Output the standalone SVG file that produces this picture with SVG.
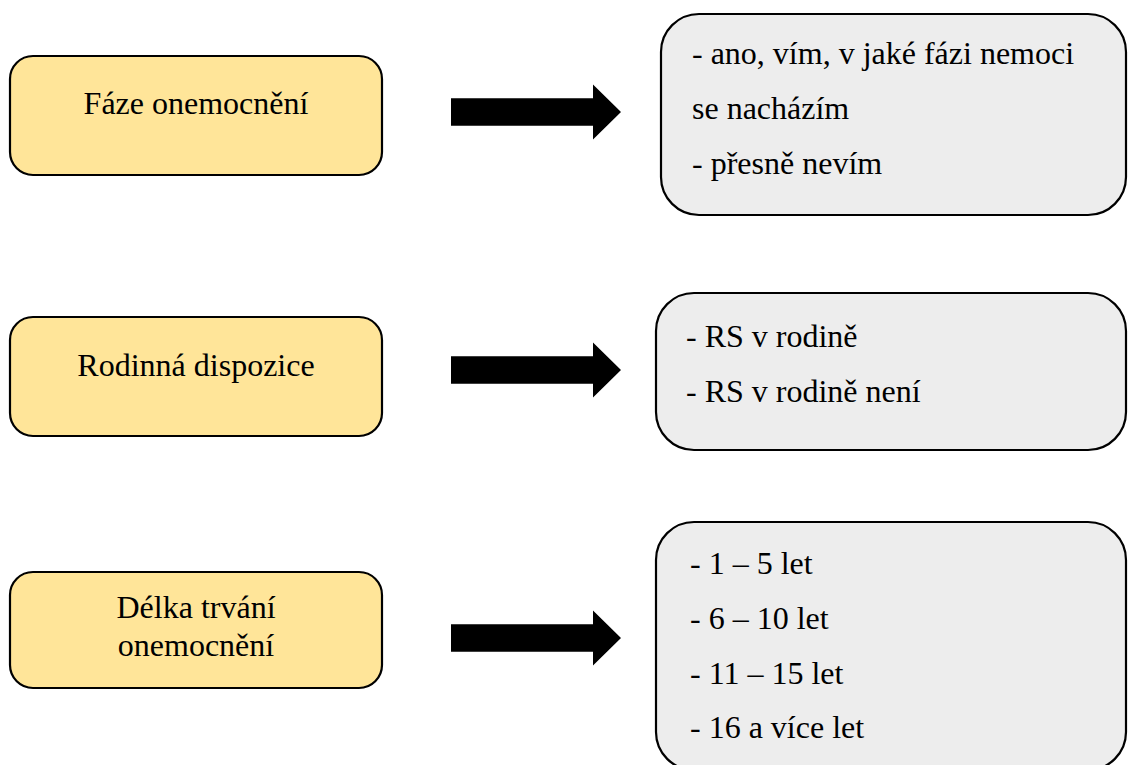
<svg xmlns="http://www.w3.org/2000/svg" width="1128" height="765" viewBox="0 0 1128 765">
  <style>
    .topic { fill: #ffe599; stroke: #000; stroke-width: 2.2; }
    .answers { fill: #ededed; stroke: #000; stroke-width: 2.2; }
    .label { font-size: 32px; fill: #000; }
    .center { text-anchor: middle; }
    .arrow { fill: #000; }
  </style>
  <defs>
    <!-- block arrow, origin at the left end of the shaft's centre line -->
    <path id="blockArrow" d="M0,-13.7 L142,-13.7 L142,-27.5 L170,0 L142,27.5 L142,13.7 L0,13.7 Z"/>
  </defs>

  <g font-family="Liberation Serif, Tinos, Times New Roman, Noto Serif, DejaVu Serif, FreeSerif, serif">
  <!-- topic boxes -->
  <g id="topic-faze">
    <rect class="topic" x="10" y="56" width="372" height="119" rx="23"/>
    <text class="label center" x="196" y="114">Fáze onemocnění</text>
  </g>
  <g id="topic-rodina">
    <rect class="topic" x="10" y="317" width="372" height="119" rx="23"/>
    <text class="label center" x="196" y="376">Rodinná dispozice</text>
  </g>
  <g id="topic-delka">
    <rect class="topic" x="10" y="572" width="372" height="116" rx="23"/>
    <text class="label center" x="196" y="618">Délka trvání</text>
    <text class="label center" x="196" y="656">onemocnění</text>
  </g>

  <!-- answer boxes -->
  <g id="answers-faze">
    <rect class="answers" x="661" y="14" width="465" height="201" rx="38"/>
    <text class="label" x="692" y="64">- ano, vím, v jaké fázi nemoci</text>
    <text class="label" x="692" y="119">se nacházím</text>
    <text class="label" x="692" y="174">- přesně nevím</text>
  </g>
  <g id="answers-rodina">
    <rect class="answers" x="656" y="293" width="470" height="157" rx="38"/>
    <text class="label" x="686" y="347">- RS v rodině</text>
    <text class="label" x="686" y="402">- RS v rodině není</text>
  </g>
  <g id="answers-delka">
    <rect class="answers" x="656" y="522" width="470" height="248" rx="38"/>
    <text class="label" x="690" y="574">- 1 – 5 let</text>
    <text class="label" x="690" y="629">- 6 – 10 let</text>
    <text class="label" x="690" y="684">- 11 – 15 let</text>
    <text class="label" x="690" y="738">- 16 a více let</text>
  </g>
  </g>

  <!-- connectors -->
  <g id="connectors" class="arrow">
    <use href="#blockArrow" x="451" y="112"/>
    <use href="#blockArrow" x="451" y="370"/>
    <use href="#blockArrow" x="451" y="638"/>
  </g>
</svg>
